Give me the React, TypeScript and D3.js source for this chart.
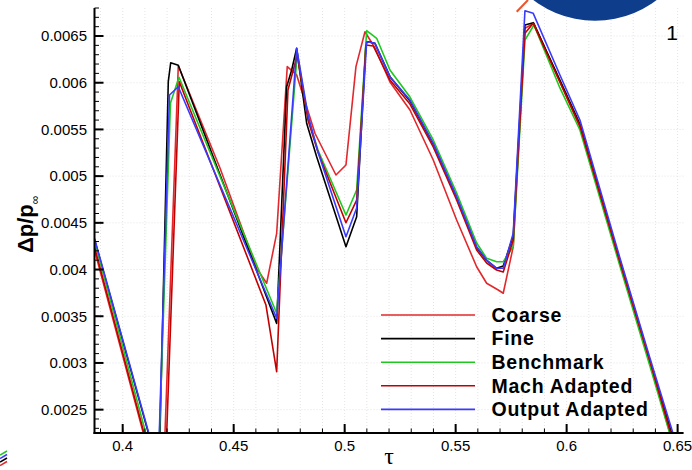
import React from 'react';
import * as d3 from 'd3';

// pressure jump signatures, [tau, dp/p_inf]
const coarse: [number, number][] = [
  [0.3873, 0.004209], [0.41789, 0.001483], [0.42505, 0.006182], [0.44383, 0.005087],
  [0.46036, 0.004013], [0.46486, 0.003853], [0.46937, 0.004388], [0.47414, 0.006172],
  [0.47838, 0.006083], [0.48662, 0.005459], [0.49608, 0.005012], [0.50059, 0.005119],
  [0.50509, 0.006172], [0.50915, 0.006546], [0.51365, 0.006372], [0.52041, 0.006008],
  [0.52942, 0.005708], [0.53991, 0.005173], [0.55045, 0.00453], [0.55946, 0.00403],
  [0.56397, 0.003853], [0.56919, 0.003781], [0.57144, 0.003746], [0.57595, 0.004245],
  [0.58122, 0.006583], [0.58527, 0.006636], [0.59698, 0.006008], [0.60599, 0.005526],
  [0.62401, 0.00407], [0.63752, 0.003], [0.64653, 0.00225], [0.65554, 0.001554],
];

const fine: [number, number][] = [
  [0.3873, 0.004322], [0.4164, 0.001839], [0.42054, 0.006011], [0.42162, 0.006214],
  [0.42505, 0.006187], [0.46937, 0.003424], [0.47387, 0.005957], [0.47613, 0.006136],
  [0.47838, 0.006369], [0.48288, 0.005566], [0.48739, 0.005208], [0.50059, 0.004245],
  [0.50541, 0.004566], [0.5096, 0.006422], [0.51063, 0.006439], [0.51365, 0.006422],
  [0.52041, 0.006065], [0.52942, 0.005804], [0.53991, 0.005344], [0.55045, 0.004771],
  [0.55946, 0.004236], [0.56397, 0.004097], [0.56847, 0.004013], [0.57144, 0.004038],
  [0.57595, 0.004359], [0.58122, 0.006618], [0.58496, 0.006643], [0.59698, 0.006029],
  [0.60599, 0.005558], [0.62401, 0.004102], [0.63752, 0.003032], [0.64743, 0.002239],
  [0.65554, 0.001586],
];

const benchmark: [number, number][] = [
  [0.3873, 0.004306], [0.4159, 0.001758], [0.42153, 0.005783], [0.42536, 0.006058],
  [0.46937, 0.003532], [0.47865, 0.006318], [0.48347, 0.005622], [0.48797, 0.00528],
  [0.50059, 0.004584], [0.50541, 0.004852], [0.50991, 0.006557], [0.51442, 0.006476],
  [0.52041, 0.006136], [0.52942, 0.005847], [0.53991, 0.005387], [0.55045, 0.004819],
  [0.55946, 0.004284], [0.56397, 0.00412], [0.56847, 0.004084], [0.57144, 0.004084],
  [0.57595, 0.004245], [0.58122, 0.006457], [0.58527, 0.006618], [0.59698, 0.005944],
  [0.60599, 0.005494], [0.62401, 0.004038], [0.63752, 0.002967], [0.64653, 0.002239],
  [0.65554, 0.001533],
];

const machAdapted: [number, number][] = [
  [0.3873, 0.004241], [0.41861, 0.001444], [0.4255, 0.006011], [0.46455, 0.00362],
  [0.46937, 0.002906], [0.47446, 0.005922], [0.47865, 0.006297], [0.48347, 0.005601],
  [0.48797, 0.005258], [0.50059, 0.004501], [0.50541, 0.004744], [0.5096, 0.006404],
  [0.51289, 0.006393], [0.52041, 0.006029], [0.52942, 0.005772], [0.53991, 0.005312],
  [0.55045, 0.004744], [0.55946, 0.004209], [0.56397, 0.00407], [0.56847, 0.003995],
  [0.57144, 0.003974], [0.57595, 0.004316], [0.58122, 0.006529], [0.58496, 0.006636],
  [0.59698, 0.006008], [0.60599, 0.005537], [0.62401, 0.004081], [0.63752, 0.003021],
  [0.64698, 0.002239], [0.65554, 0.001565],
];

const outputAdapted: [number, number][] = [
  [0.3873, 0.004334], [0.41604, 0.001883], [0.42108, 0.005869], [0.42505, 0.005957],
  [0.46937, 0.003478], [0.47838, 0.006369], [0.48347, 0.005654], [0.48797, 0.005258],
  [0.50059, 0.004352], [0.50541, 0.004659], [0.50991, 0.006439], [0.51365, 0.006422],
  [0.52041, 0.006065], [0.52942, 0.005815], [0.53991, 0.005351], [0.55045, 0.00478],
  [0.55946, 0.004245], [0.56397, 0.004102], [0.56847, 0.004013], [0.57144, 0.004013],
  [0.57595, 0.004388], [0.58122, 0.006771], [0.58496, 0.006743], [0.59698, 0.006083],
  [0.60599, 0.005601], [0.62401, 0.004124], [0.63752, 0.003053], [0.64788, 0.00225],
  [0.65554, 0.001661],
];

const seriesNames = ['Coarse', 'Fine', 'Benchmark', 'Mach Adapted', 'Output Adapted'];
const seriesData = [coarse, fine, benchmark, machAdapted, outputAdapted];
const seriesColors = ['#e2282c', '#000000', '#1ec81e', '#c20000', '#3a3aff'];

const xTickValues = [0.4, 0.45, 0.5, 0.55, 0.6, 0.65];
const xTickLabels = ['0.4', '0.45', '0.5', '0.55', '0.6', '0.65'];
const yTickValues = [0.0025, 0.003, 0.0035, 0.004, 0.0045, 0.005, 0.0055, 0.006, 0.0065];
const yTickLabels = ['0.0025', '0.003', '0.0035', '0.004', '0.0045', '0.005', '0.0055', '0.006', '0.0065'];

const W = 692;
const H = 470;
const left = 94.5;
const right = 683.6;
const top = 8;
const bottom = 433;
const font = 'Liberation Sans, Arial, Helvetica, sans-serif';

export default function App() {
  const x = d3.scaleLinear().domain([0.3873, 0.6527]).range([left, right]);
  const y = d3.scaleLinear().domain([0.00225, 0.0068]).range([bottom, top]);
  const line = d3.line<[number, number]>().x((d) => x(d[0])).y((d) => y(d[1]));

  const xMinor = d3.range(39, 66).map((i) => i / 100);
  const yMinor = d3.range(23, 69).map((i) => i / 10000);

  return (
    <svg
      width={W}
      height={H}
      style={{ position: 'absolute', left: 0, top: 0, display: 'block', background: '#fff' }}
    >
      <defs>
        <clipPath id="plot">
          <rect x={left} y={top} width={right - left} height={bottom - top} />
        </clipPath>
      </defs>

      {/* grid */}
      <g stroke="#e4e4e4" strokeWidth={1} strokeDasharray="1,2">
        {xMinor.map((v) => (
          <line key={v} x1={x(v)} x2={x(v)} y1={top} y2={bottom} />
        ))}
        {yTickValues.map((v) => (
          <line key={v} x1={left} x2={right} y1={y(v)} y2={y(v)} />
        ))}
      </g>

      {/* pieces of neighbouring figures */}
      <circle cx={595} cy={-81.6} r={102.3} fill="#0e3d8c" />
      <line x1={516.7} y1={11.7} x2={528} y2={0} stroke="#f0502a" strokeWidth={2} />
      {['#1ec81e', '#3a3aff', '#000', '#e2282c'].map((c, i) => (
        <line key={c} x1={0} y1={455 + i * 3.5} x2={7} y2={451 + i * 3.5} stroke={c} strokeWidth={1.5} />
      ))}

      {/* curves */}
      <g clipPath="url(#plot)" fill="none" strokeWidth={1.6} strokeLinejoin="round">
        {seriesData.map((d, i) => (
          <path key={seriesNames[i]} d={line(d) || ''} stroke={seriesColors[i]} />
        ))}
      </g>

      {/* axes */}
      <g stroke="#000">
        <line x1={left} x2={left} y1={top} y2={bottom + 1} strokeWidth={2} />
        <line x1={left - 1} x2={right} y1={bottom} y2={bottom} strokeWidth={2} />
        {xMinor.map((v) => (
          <line key={v} x1={x(v)} x2={x(v)} y1={bottom} y2={bottom - 4.5} strokeWidth={1} />
        ))}
        {xTickValues.map((v) => (
          <line key={v} x1={x(v)} x2={x(v)} y1={bottom} y2={bottom - 9} strokeWidth={2} />
        ))}
        {yMinor.map((v) => (
          <line key={v} x1={left} x2={left + 4.5} y1={y(v)} y2={y(v)} strokeWidth={1} />
        ))}
        {yTickValues.map((v) => (
          <line key={v} x1={left} x2={left + 9} y1={y(v)} y2={y(v)} strokeWidth={2} />
        ))}
      </g>
      <g fontFamily={font} fontSize={15} fill="#000">
        {xTickValues.map((v, i) => (
          <text key={v} x={x(v)} y={450.5} textAnchor="middle">
            {xTickLabels[i]}
          </text>
        ))}
        {yTickValues.map((v, i) => (
          <text key={v} x={87} y={y(v) + 5.3} textAnchor="end">
            {yTickLabels[i]}
          </text>
        ))}
      </g>

      <text x={389} y={464} textAnchor="middle" fontFamily="Liberation Serif, Times New Roman, serif" fontSize={24}>
        τ
      </text>
      <text
        transform="translate(32.8,253) rotate(-90)"
        fontFamily={font}
        fontSize={22}
        fontWeight="bold"
      >
        Δp/p
        <tspan fontSize={12} dy={6} fontWeight="normal">∞</tspan>
      </text>
      <text x={672} y={40} textAnchor="middle" fontFamily={font} fontSize={21}>
        1
      </text>

      {/* legend */}
      <g fontFamily={font} fontSize={19.5} fontWeight="bold" letterSpacing={0.75}>
        {seriesNames.map((name, i) => {
          const ly = 315 + i * 23.6;
          return (
            <g key={name}>
              <line x1={381} x2={475} y1={ly} y2={ly} stroke={seriesColors[i]} strokeWidth={1.6} />
              <text x={491.5} y={ly + 6.8}>
                {name}
              </text>
            </g>
          );
        })}
      </g>
    </svg>
  );
}
